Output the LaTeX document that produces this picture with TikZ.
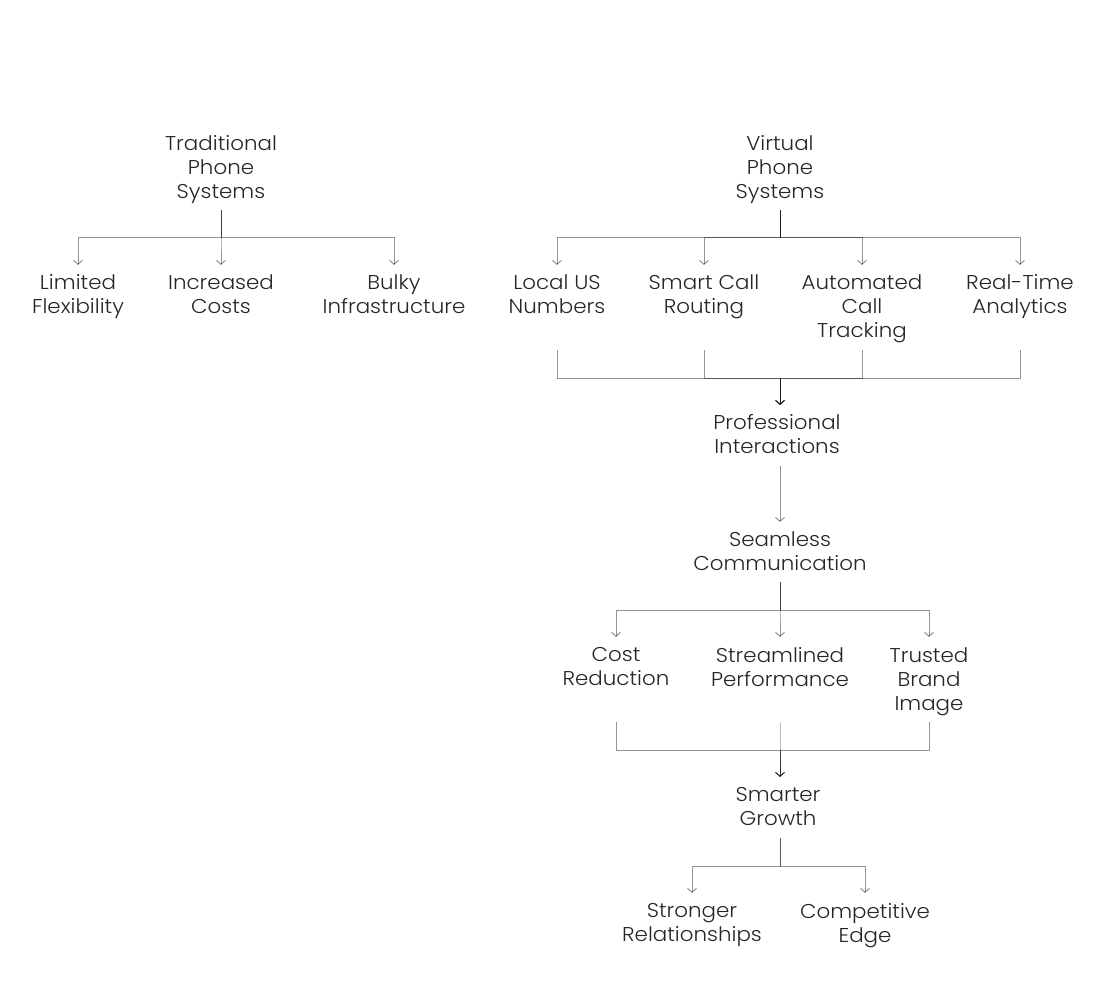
\documentclass[tikz,border=0pt]{standalone}
\usepackage{fontspec}
\setmainfont{Poppins Light}[FakeStretch = 1.07]
\usetikzlibrary{arrows.meta}
\tikzset{
lbl/.style = {anchor = north, align = center, text = black!85, font = \fontsize{20}{24}\selectfont, inner sep = 0pt, execute at begin node = \strut},
link/.style = {draw = black, draw opacity = 0.42, line width = 1pt},
tip/.style = {link, -{Straight Barb[length = 4pt, width = 9pt]}},
}

\begin{document}
\begin{tikzpicture}[x = 1pt, y = -1pt]
      \useasboundingbox (0, 0) rectangle (1104, 996);
      % levels of the connectors
      \coordinate (yTop) at (0, 210);
      \coordinate (yFan1) at (0, 237);
      \coordinate (yHead1) at (0, 265);
      \coordinate (yLow1) at (0, 350);
      \coordinate (yMerge1) at (0, 378);
      \coordinate (yHead2) at (0, 405);
      \coordinate (yProB) at (0, 466);
      \coordinate (ySeaT) at (0, 522);
      \coordinate (ySeaB) at (0, 582);
      \coordinate (yFan2) at (0, 610);
      \coordinate (yHead3) at (0, 637);
      \coordinate (yLow2) at (0, 722);
      \coordinate (yMerge2) at (0, 750);
      \coordinate (yHead4) at (0, 777);
      \coordinate (ySmgB) at (0, 838);
      \coordinate (yFan3) at (0, 866);
      \coordinate (yHead5) at (0, 893);
      % traditional side
      \node[lbl] (tps) at (221, 135) {Traditional\\Phone\\Systems};
      \node[lbl] (lim) at (78, 274) {Limited\\Flexibility};
      \node[lbl] (inc) at (221, 274) {Increased\\Costs};
      \node[lbl] (bul) at (394, 274) {Bulky\\Infrastructure};
      % virtual side
      \node[lbl] (vps) at (780, 135) {Virtual\\Phone\\Systems};
      \node[lbl] (loc) at (557, 274) {Local US\\Numbers};
      \node[lbl] (scr) at (704, 274) {Smart Call\\Routing};
      \node[lbl] (act) at (862, 274) {Automated\\Call\\Tracking};
      \node[lbl] (rta) at (1020, 274) {Real-Time\\Analytics};
      \node[lbl] (pro) at (777, 414) {Professional\\Interactions};
      \node[lbl] (sea) at (780, 531) {Seamless\\Communication};
      \node[lbl] (cos) at (616, 647) {Cost\\Reduction};
      \node[lbl] (str) at (780, 647) {Streamlined\\Performance};
      \node[lbl] (tbi) at (929, 647) {Trusted\\Brand\\Image};
      \node[lbl] (smg) at (778, 787) {Smarter\\Growth};
      \node[lbl] (srl) at (692, 903) {Stronger\\Relationships};
      \node[lbl] (ced) at (865, 903) {Competitive\\Edge};

      \foreach \c in {lim, inc, bul}
        \draw[tip] (tps |- yTop) -- (tps |- yFan1) -| (\c |- yHead1);
      \foreach \c in {loc, scr, act, rta}
        \draw[tip] (vps |- yTop) -- (vps |- yFan1) -| (\c |- yHead1);
      \foreach \c in {loc, scr, act, rta}
        \draw[tip] (\c |- yLow1) |- (vps |- yMerge1) -- (vps |- yHead2);
      \draw[tip] (sea |- yProB) -- (sea |- ySeaT);
      \foreach \c in {cos, str, tbi}
        \draw[tip] (sea |- ySeaB) -- (sea |- yFan2) -| (\c |- yHead3);
      \foreach \c in {cos, str, tbi}
        \draw[tip] (\c |- yLow2) |- (str |- yMerge2) -- (str |- yHead4);
      \foreach \c in {srl, ced}
        \draw[tip] (str |- ySmgB) -- (str |- yFan3) -| (\c |- yHead5);
\end{tikzpicture}
\end{document}
